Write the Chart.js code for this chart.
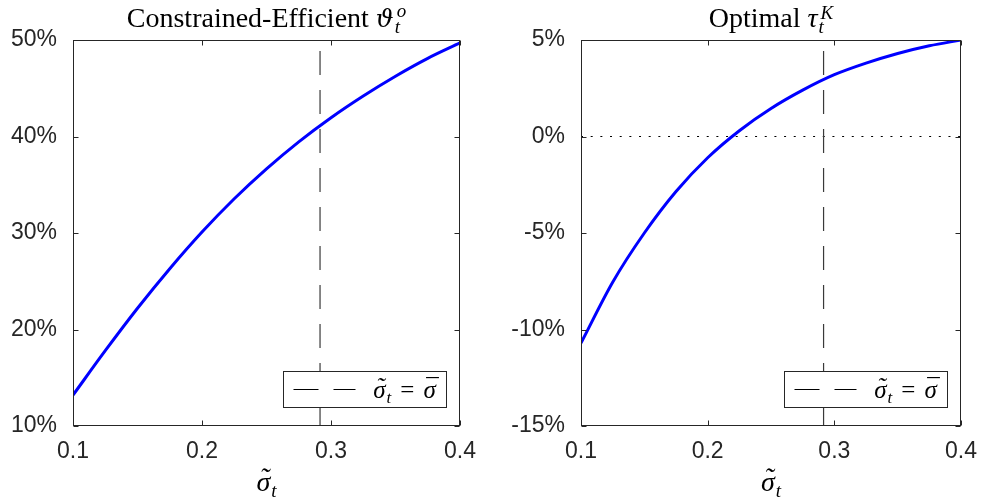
<!DOCTYPE html>
<html>
<head>
<meta charset="utf-8">
<script src="https://cdn.jsdelivr.net/npm/chart.js@4.4.0/dist/chart.umd.min.js"></script>
<style>
  body { margin: 0; background: #fff; }
  .panel { position: absolute; top: 0; }
</style>
</head>
<body>
<div class="panel" style="left:0"><canvas id="left" width="494" height="501"></canvas></div>
<div class="panel" style="left:494px"><canvas id="right" width="495" height="501"></canvas></div>
<script>
// values (percent)
const sigmaGrid = [0.1, 0.125, 0.15, 0.175, 0.2, 0.225, 0.25, 0.275, 0.3, 0.325, 0.35, 0.375, 0.4];
const thetaO = [13.2, 17.8, 22.2, 26.3, 30.1, 33.55, 36.65, 39.45, 41.95, 44.2, 46.25, 48.1, 49.7];
const tauK = [-10.7, -7.55, -5.0, -2.85, -1.1, 0.3, 1.45, 2.4, 3.2, 3.8, 4.3, 4.7, 5.0];
const sigmaBar = 0.2915;
const xTicks = [0.1, 0.2, 0.3, 0.4];
const thetaTicks = [10, 20, 30, 40, 50];
const tauTicks = [-15, -10, -5, 0, 5];

const INK = '#262626';
const SERIF = '"Liberation Serif", "DejaVu Serif", serif';
Chart.defaults.font.family = '"Liberation Sans", Arial, sans-serif';
Chart.defaults.color = INK;

// draws a line of text with sub/superscripts and accents, centred on cx
function drawMath(ctx, parts, cx, base) {
  const widths = parts.map(p => {
    ctx.font = p.f;
    let w = ctx.measureText(p.t).width;
    let s = 0;
    ctx.font = p.sf || p.f;
    if (p.sub) s = Math.max(s, ctx.measureText(p.sub).width + (p.subDx || 0));
    if (p.sup) s = Math.max(s, ctx.measureText(p.sup).width + (p.supDx || 0));
    return w + s + (p.gap || 0);
  });
  const total = widths.reduce((a, b) => a + b, 0);
  let x = cx - total / 2;
  ctx.fillStyle = '#000';
  ctx.textBaseline = 'alphabetic';
  ctx.textAlign = 'left';
  parts.forEach((p, i) => {
    ctx.font = p.f;
    ctx.fillText(p.t, x, base);
    const w = ctx.measureText(p.t).width;
    if (p.acc) {
      ctx.textAlign = 'center';
      ctx.font = p.af || p.f;
      ctx.fillText(p.acc, x + w / 2 + (p.accDx || 0), base + p.accDy);
      ctx.textAlign = 'left';
    }
    ctx.font = p.sf || p.f;
    if (p.sub) ctx.fillText(p.sub, x + w + (p.subDx || 0), base + p.subDy);
    if (p.sup) ctx.fillText(p.sup, x + w + (p.supDx || 0), base + p.supDy);
    x += widths[i];
  });
}

function makePanel(id, values, yTicks, title, withZero) {
  const yMin = yTicks[0], yMax = yTicks[yTicks.length - 1];
  const canvas = document.getElementById(id);
  const padRight = id === 'left' ? 34 : 21;
  const axisW = id === 'left' ? 73 : 87;

  const datasets = [
    {
      data: [{ x: sigmaBar, y: yMin }, { x: sigmaBar, y: yMax }],
      borderColor: '#3a3a3a', borderWidth: 1.2, borderDash: [24, 15],
      pointRadius: 0, order: 0
    },
    {
      data: sigmaGrid.map((s, i) => ({ x: s, y: values[i] })),
      borderColor: '#0000ff', borderWidth: 3, pointRadius: 0,
      cubicInterpolationMode: 'monotone', order: 1
    }
  ];
  if (withZero) {
    datasets.push({
      data: [{ x: xTicks[0], y: 0 }, { x: xTicks[xTicks.length - 1], y: 0 }],
      borderColor: '#000', borderWidth: 1.2, borderDash: [2, 7.67],
      pointRadius: 0, order: 2
    });
  }

  const framePlugin = {
    id: 'frame',
    afterDraw(chart) {
      const { ctx, chartArea: a, scales: { x, y } } = chart;
      ctx.save();
      // legend box
      const bw = 163, bh = 36;
      const bx = Math.round(a.right - 14 - bw) + 0.5, by = Math.round(a.bottom - 19 - bh) + 0.5;
      ctx.fillStyle = '#fff';
      ctx.fillRect(bx, by, bw, bh);
      ctx.strokeStyle = INK; ctx.lineWidth = 1;
      ctx.strokeRect(bx, by, bw, bh);
      ctx.beginPath();
      ctx.setLineDash([25, 15]);
      ctx.strokeStyle = '#000';
      ctx.moveTo(bx + 10, by + 18); ctx.lineTo(bx + 72, by + 18);
      ctx.stroke();
      ctx.setLineDash([]);
      const lf = 'italic 25px ' + SERIF, ls = 'italic 17px ' + SERIF;
      drawMath(ctx, [
        { t: 'σ', f: lf, sf: ls, sub: 't', subDy: 5, subDx: 1, gap: 9, acc: '˜', accDy: -3, accDx: 1 },
        { t: '=', f: '25px ' + SERIF, gap: 9 },
        { t: 'σ', f: lf, acc: '¯', accDy: -2, accDx: 1 }
      ], bx + 121, by + 26);

      // box and inward ticks
      ctx.strokeStyle = INK; ctx.lineWidth = 1;
      const L = Math.round(a.left) + 0.5, R = Math.round(a.right) - 0.5;
      const T = Math.round(a.top) + 0.5, B = Math.round(a.bottom) - 0.5;
      ctx.strokeRect(L, T, R - L, B - T);
      ctx.beginPath();
      xTicks.forEach(v => {
        const px = Math.round(x.getPixelForValue(v)) + 0.5;
        ctx.moveTo(px, B); ctx.lineTo(px, B - 5);
        ctx.moveTo(px, T); ctx.lineTo(px, T + 5);
      });
      yTicks.forEach(v => {
        const py = Math.round(y.getPixelForValue(v)) + 0.5;
        ctx.moveTo(L, py); ctx.lineTo(L + 5, py);
        ctx.moveTo(R, py); ctx.lineTo(R - 5, py);
      });
      ctx.stroke();

      // title and axis label
      const cx = (a.left + a.right) / 2;
      drawMath(ctx, title, cx, 26.5);
      drawMath(ctx, [
        { t: 'σ', f: 'italic 28px ' + SERIF, sf: 'italic 19px ' + SERIF, sub: 't', subDy: 6, subDx: 1,
          acc: '˜', accDy: -4, accDx: 1 }
      ], cx, 491);
      ctx.restore();
    }
  };

  return new Chart(canvas, {
    type: 'line',
    data: { datasets },
    plugins: [framePlugin],
    options: {
      responsive: false,
      animation: false,
      layout: { padding: { left: 0, top: 40, right: padRight, bottom: 0 } },
      plugins: { legend: { display: false }, tooltip: { enabled: false } },
      scales: {
        x: {
          type: 'linear', min: xTicks[0], max: xTicks[xTicks.length - 1],
          afterBuildTicks: s => { s.ticks = xTicks.map(v => ({ value: v })); },
          afterFit: s => { s.height = 75; },
          grid: { display: false, drawTicks: false },
          border: { display: false },
          ticks: { padding: 12, font: { size: 23 }, color: INK, callback: v => v.toFixed(1) }
        },
        y: {
          min: yMin, max: yMax,
          afterBuildTicks: s => { s.ticks = yTicks.map(v => ({ value: v })); },
          afterFit: s => { s.width = axisW; },
          grid: { display: false, drawTicks: false },
          border: { display: false },
          ticks: { padding: 16, font: { size: 23 }, color: INK, callback: v => v + '%' }
        }
      }
    }
  });
}

const tf = '28px ' + SERIF, ts = 'italic 19px ' + SERIF;
makePanel('left', thetaO, thetaTicks, [
  { t: 'Constrained-Efficient ', f: tf },
  { t: 'ϑ', f: 'italic 25px "DejaVu Serif", serif', sf: ts, sub: 't', subDy: 6.5, subDx: 1, sup: 'o', supDy: -10, supDx: 3 }
], false);
makePanel('right', tauK, tauTicks, [
  { t: 'Optimal ', f: tf },
  { t: 'τ', f: 'italic 28px ' + SERIF, sf: ts, sub: 't', subDy: 6.5, subDx: 1, sup: 'K', supDy: -8, supDx: 3 }
], true);
</script>
</body>
</html>
